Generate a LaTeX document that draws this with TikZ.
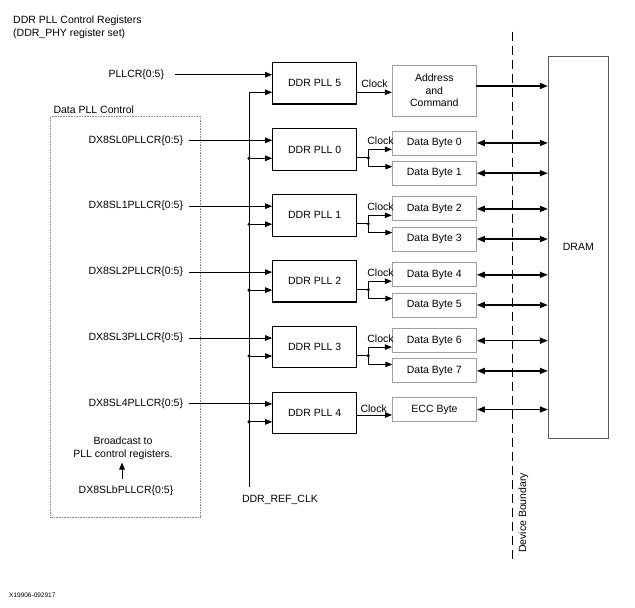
\documentclass[tikz,border=0pt]{standalone}
\usepackage{fontspec}
\setmainfont{Liberation Sans}
\usetikzlibrary{arrows.meta}
\begin{document}
\begin{tikzpicture}[x=1pt,y=-1pt,
  every node/.style={font=\fontsize{10.5}{12.7}\selectfont},
  pllbox/.style={draw=black,line width=1.1pt,minimum width=84pt,minimum height=41.5pt,inner sep=0pt},
  databox/.style={draw=black!38,line width=0.9pt,minimum width=84pt,minimum height=24pt,inner sep=0pt},
  reglbl/.style={anchor=east,inner sep=0pt},
  inarrow/.style={line width=0.9pt,-{Triangle[length=7pt,width=5.5pt]}},
  busline/.style={line width=0.9pt},
  bidir/.style={line width=1.5pt,{Triangle[length=8pt,width=6pt]}-{Triangle[length=8pt,width=6pt]}},
  onedir/.style={line width=1.5pt,-{Triangle[length=8pt,width=6pt]}},
  dotj/.style={circle,fill=black,inner sep=0pt,minimum size=3.4pt}]
\useasboundingbox (0,0) rectangle (635,608);

% title
\node[anchor=west,inner sep=0pt] (t1) at (13,20.7) {DDR PLL Control Registers};
\node[anchor=west,inner sep=0pt] (t2) at (13,33.3) {(DDR\_PHY register set)};

% Data PLL control box
\node[anchor=west,inner sep=0pt] (dpc) at (53.3,109.3) {Data PLL Control};
\node[draw=black!45,densely dotted,line width=0.6pt,minimum width=149.6pt,minimum height=401.4pt,inner sep=0pt] (dpcbox) at (125.5,317) {};

% PLL5
\node[pllbox] (pll5) at (314.7,83.2) {DDR PLL 5};
\node[reglbl] (r5) at (164.3,74.7) {PLLCR\{0:5\}};
\draw[inarrow] ([xshift=11pt]r5.east) -- (pll5.west |- r5.east);
\node[draw=black!38,line width=0.9pt,minimum width=84pt,minimum height=50.7pt,inner sep=0pt,align=center,font=\fontsize{10.5}{12.5}\selectfont] (addr) at (434.3,90.7) {Address\\and\\Command};
\coordinate (c5) at (356.7,92.3);
\draw[inarrow] (c5) -- (addr.west |- c5);
\node[inner sep=0pt] (ck5) at (374.5,83.3) {Clock};

% bus
\coordinate (bustop) at (249,92.3);
\coordinate (busend) at (249,486.7);
\draw[busline] (busend) -- (bustop);
\draw[inarrow] (bustop) -- (pll5.west |- bustop);
\node[inner sep=0pt] (ref) at (280,500) {DDR\_REF\_CLK};

% DRAM
\node[draw=black!65,line width=0.9pt,minimum width=60pt,minimum height=381.3pt,inner sep=0pt] (dram) at (578.3,247.3) {DRAM};

% address -> DRAM
\coordinate (a1) at (476.3,86);
\draw[onedir] (a1) -- (dram.west |- a1);

% PLL 0..3
\foreach \k/\ta/\tb in {0/0/1,1/2/3,2/4/5,3/6/7}{
  \pgfmathsetmacro{\top}{128.7+65.9*\k}
  \node[pllbox] (pll\k) at (314.7,\top+20.7) {DDR PLL \k};
  \node[reglbl] (r\k) at (183.3,\top+11.6) {DX8SL\k PLLCR\{0:5\}};
  \draw[inarrow] ([xshift=5.5pt]r\k.east) -- (pll\k.west |- r\k.east);
  \node[dotj] (j\k) at (249,\top+29.6) {};
  \draw[inarrow] (j\k.center) -- (pll\k.west |- j\k.center);
  \node[databox] (db\ta) at (434.3,\top+14.3) {Data Byte \ta};
  \node[databox] (db\tb) at (434.3,\top+44.5) {Data Byte \tb};
  \node[dotj] (cj\k) at (368.3,\top+29.2) {};
  \draw[busline] (pll\k.east |- cj\k.center) -- (cj\k.center);
  \draw[inarrow] (cj\k.center) |- (db\ta.west |- pll\k.center);
  \coordinate (lo\k) at (392.3,\top+38);
  \draw[inarrow] (cj\k.center) |- (lo\k);
  \node[inner sep=0pt] (ck\k) at (380.5,\top+12) {Clock};
  \draw[bidir] (db\ta.east) -- (dram.west |- db\ta.east);
  \draw[bidir] (db\tb.east) -- (dram.west |- db\tb.east);
}

% PLL 4
\node[pllbox] (pll4) at (314.7,412.9) {DDR PLL 4};
\node[reglbl] (r4) at (183.3,403.9) {DX8SL4PLLCR\{0:5\}};
\draw[inarrow] ([xshift=5.5pt]r4.east) -- (pll4.west |- r4.east);
\node[dotj] (j4) at (249,421.9) {};
\draw[inarrow] (j4.center) -- (pll4.west |- j4.center);
\node[databox] (ecc) at (434.5,409.5) {ECC Byte};
\coordinate (c4) at (356.7,415);
\draw[inarrow] (c4) -- (ecc.west |- c4);
\node[inner sep=0pt] (ck4) at (373.7,408.3) {Clock};
\draw[bidir] (ecc.east) -- (dram.west |- ecc.east);

% broadcast
\node[inner sep=0pt,align=center,font=\fontsize{10.5}{12.7}\selectfont] (bc) at (123,448.5) {Broadcast to\\PLL control registers.};
\node[inner sep=0pt] (rb) at (126,491) {DX8SLbPLLCR\{0:5\}};
\coordinate (bca) at (122,479);
\coordinate (bcb) at (122,462.5);
\draw[inarrow] (bca) -- (bcb);

% device boundary
\coordinate (dbt) at (512.7,31.7);
\coordinate (dbb) at (512.7,563);
\draw[line width=1.3pt,dash pattern=on 9pt off 5pt] (dbt) -- (dbb);
\node[rotate=90,inner sep=0pt] (devb) at (523.5,513) {Device Boundary};

% figure id
\node[anchor=west,inner sep=0pt,font=\fontsize{6.5}{7}\selectfont] (fid) at (9,595.5) {X19906-092917};
\end{tikzpicture}
\end{document}
